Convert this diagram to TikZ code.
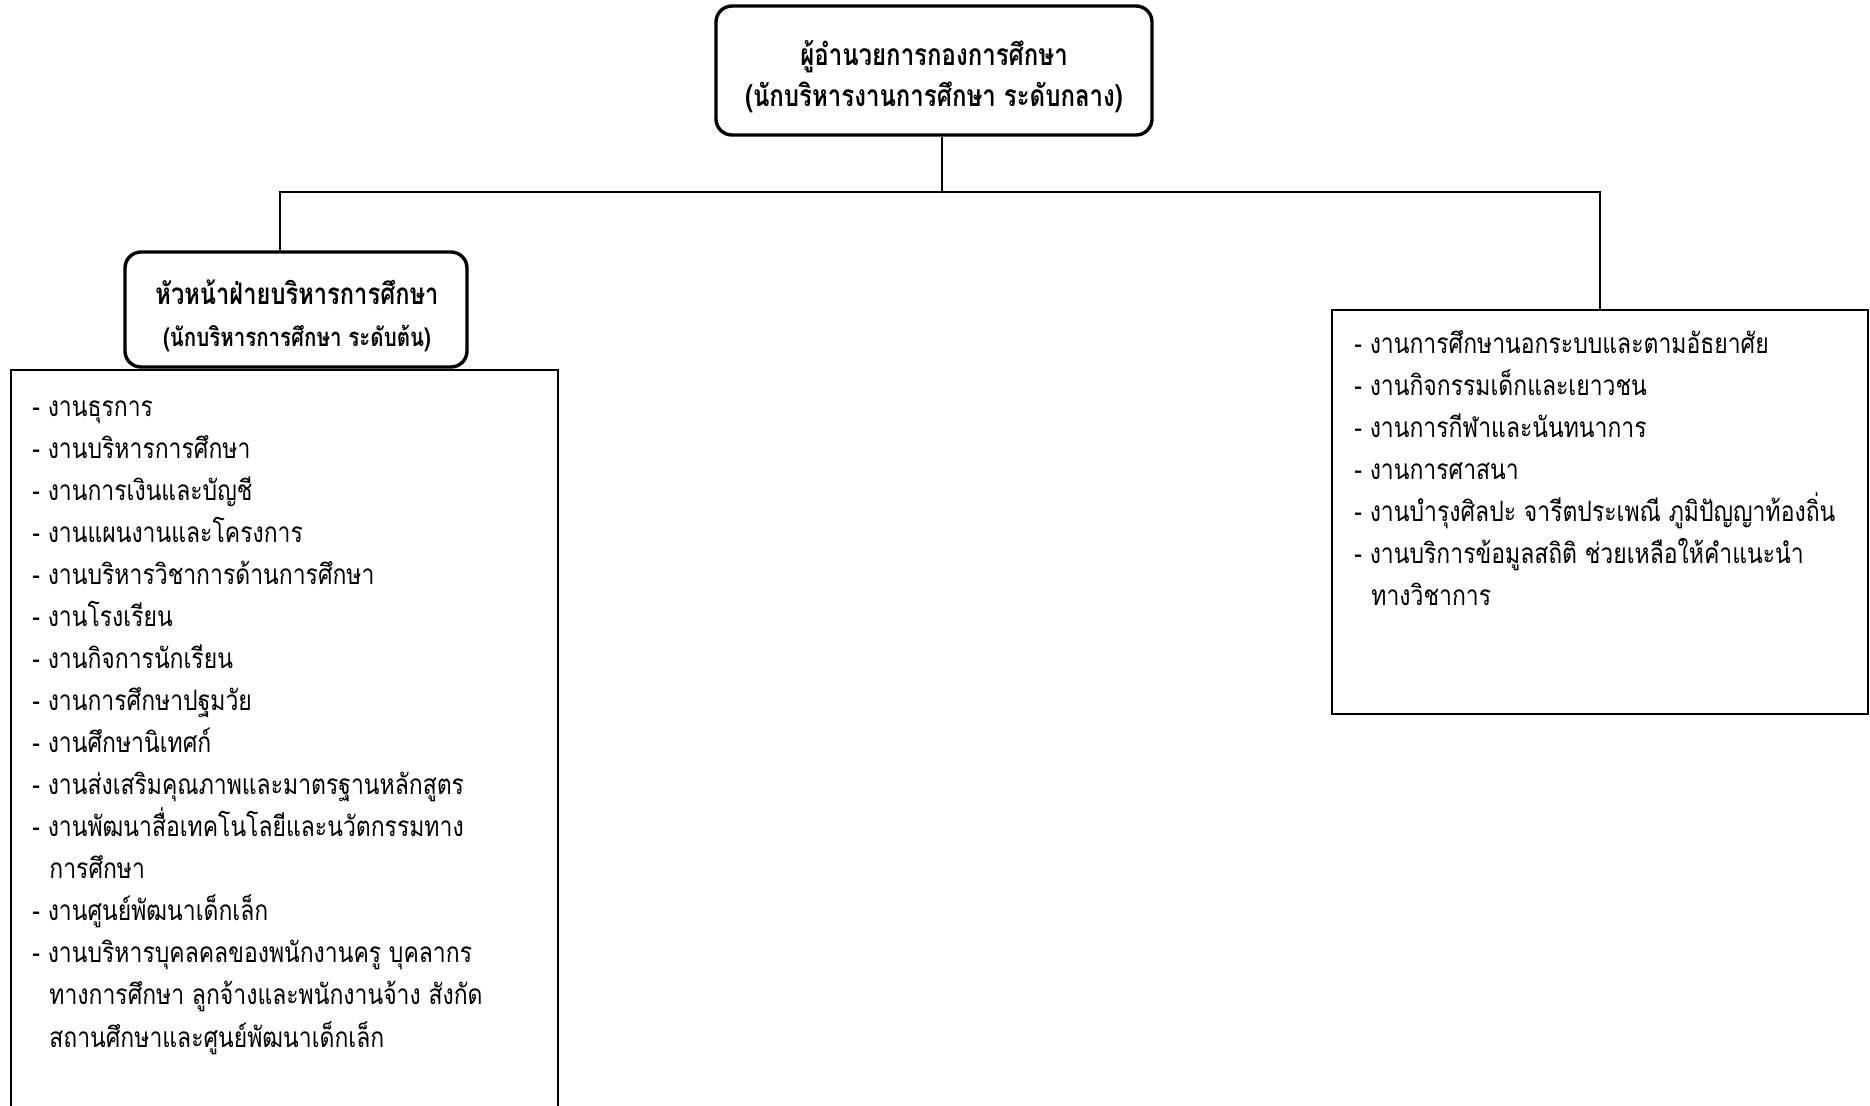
\documentclass[tikz,border=0pt]{standalone}
\usepackage{fontspec}
\newfontfamily\thai[Script=Thai,FakeStretch=0.8]{Loma}
\newfontfamily\thailist[Script=Thai,FakeStretch=0.82]{Loma}
\begin{document}
\begin{tikzpicture}[x=0.5pt,y=-0.5pt,
  rbox/.style={draw, line width=1.7pt, rounded corners=8pt, inner sep=0pt},
  lbox/.style={draw, line width=1.2pt, inner sep=0pt},
  head/.style={anchor=base, inner sep=0pt, font=\thai\bfseries},
  item/.style={anchor=base west, inner sep=0pt, font=\thailist\fontsize{14}{16}\selectfont},
  conn/.style={line width=1pt}]
\useasboundingbox (0,0) rectangle (1870,1105);
\clip (-5,-5) rectangle (1875,1110);
\node[rbox, minimum width=218pt, minimum height=64.5pt] (top) at (934,70.5) {};
\node[head] (t1) at (934,65) {\fontsize{15}{18}\selectfont ผู้อำนวยการกองการศึกษา};
\node[head] (t2) at (934,106) {\fontsize{15}{18}\selectfont (นักบริหารงานการศึกษา ระดับกลาง)};
\node[rbox, minimum width=171pt, minimum height=57.5pt] (lh) at (296,309.5) {};
\node[head] (h1) at (297,304) {\fontsize{14.8}{18}\selectfont หัวหน้าฝ่ายบริหารการศึกษา};
\node[head] (h2) at (297,346) {\fontsize{12.8}{16}\selectfont (นักบริหารการศึกษา ระดับต้น)};
\node[lbox, minimum width=273.5pt, minimum height=390pt] (ll) at (284.5,760) {};
\node[lbox, minimum width=268pt, minimum height=202pt] (rl) at (1600,512) {};
\coordinate (jm) at (942,192);
\coordinate (jl) at (280,192);
\coordinate (jr) at (1600,192);
\draw[conn] (top.south -| jm) -- (jm);
\draw[conn] (lh.north -| jl) -- (jl) -- (jr) -- (rl.north -| jr);
\foreach \xx/\k/\t [count=\i] in {
  32/0/- งานธุรการ,
  32/1/- งานบริหารการศึกษา,
  32/2/- งานการเงินและบัญชี,
  32/3/- งานแผนงานและโครงการ,
  32/4/- งานบริหารวิชาการด้านการศึกษา,
  32/5/- งานโรงเรียน,
  32/6/- งานกิจการนักเรียน,
  32/7/- งานการศึกษาปฐมวัย,
  32/8/- งานศึกษานิเทศก์,
  32/9/- งานส่งเสริมคุณภาพและมาตรฐานหลักสูตร,
  32/10/- งานพัฒนาสื่อเทคโนโลยีและนวัตกรรมทาง,
  49/11/การศึกษา,
  32/12/- งานศูนย์พัฒนาเด็กเล็ก,
  32/13/- งานบริหารบุคลคลของพนักงานครู บุคลากร,
  49/14/ทางการศึกษา ลูกจ้างและพนักงานจ้าง สังกัด,
  49/15/สถานศึกษาและศูนย์พัฒนาเด็กเล็ก}
  \node[item] (a\i) at (\xx,416+42.07*\k) {\t};
\foreach \xx/\k/\t [count=\i] in {
  1354/0/- งานการศึกษานอกระบบและตามอัธยาศัย,
  1354/1/- งานกิจกรรมเด็กและเยาวชน,
  1354/2/- งานการกีฬาและนันทนาการ,
  1354/3/- งานการศาสนา,
  1354/4/- งานบำรุงศิลปะ จารีตประเพณี ภูมิปัญญาท้องถิ่น,
  1354/5/- งานบริการข้อมูลสถิติ ช่วยเหลือให้คำแนะนำ,
  1371/6/ทางวิชาการ}
  \node[item] (b\i) at (\xx,353+42.07*\k) {\t};
\end{tikzpicture}
\end{document}
